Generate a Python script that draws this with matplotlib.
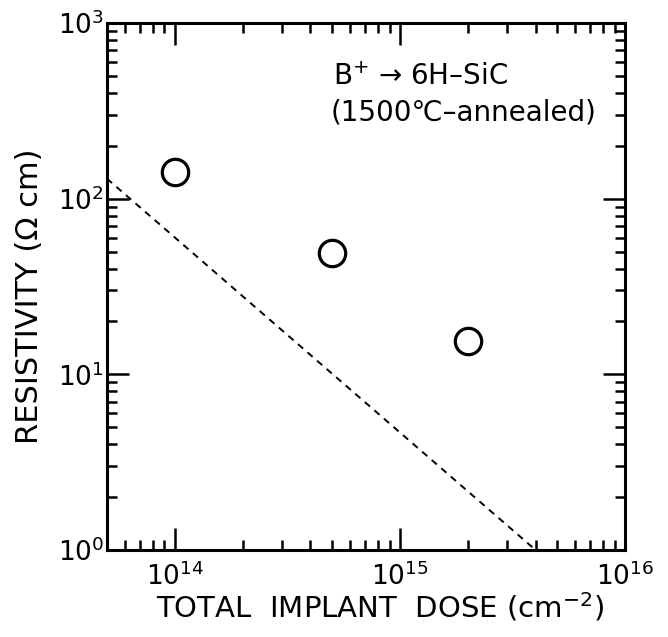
import matplotlib
matplotlib.use("Agg")
import matplotlib.pyplot as plt
from matplotlib.ticker import LogLocator, NullFormatter

plt.rcParams['font.family'] = ['DejaVu Sans']
plt.rcParams['mathtext.fontset'] = 'dejavusans'

# measured points
dose = [1e14, 5e14, 2e15]
resistivity = [142, 49, 15.5]

# dashed reference line
line_dose = [5e13, 4e15]
line_res = [130, 1]

fig = plt.figure(figsize=(6.68, 6.37), dpi=100)
ax = fig.add_axes([0.160, 0.1366, 0.776, 0.8274])

ax.plot(line_dose, line_res, color='black', linestyle=(0, (3.5, 3)), linewidth=1.4)
ax.plot(dose, resistivity, linestyle='none', marker='o', markersize=19,
        markerfacecolor='white', markeredgecolor='black', markeredgewidth=2.3)

ax.set_xscale('log')
ax.set_yscale('log')
ax.set_xlim(5e13, 1e16)
ax.set_ylim(1, 1e3)

ax.xaxis.set_major_locator(LogLocator(base=10, numticks=10))
ax.xaxis.set_minor_locator(LogLocator(base=10, subs=range(2, 10), numticks=20))
ax.yaxis.set_minor_locator(LogLocator(base=10, subs=range(2, 10), numticks=20))
ax.xaxis.set_minor_formatter(NullFormatter())
ax.yaxis.set_minor_formatter(NullFormatter())

for s in ax.spines.values():
    s.set_linewidth(2.2)

ax.tick_params(which='both', direction='in', top=True, right=True, width=1.8)
ax.tick_params(which='major', length=16, labelsize=19)
ax.tick_params(which='minor', length=7)
ax.tick_params(axis='x', which='major', pad=9)
ax.tick_params(axis='y', which='major', pad=2)

ax.set_xlabel('TOTAL  IMPLANT  DOSE (cm$^{-2}$)', fontsize=21, labelpad=0)
ax.set_ylabel('RESISTIVITY (\u03a9 cm)', fontsize=22, labelpad=10)
ax.xaxis.label.set_x(0.527)
ax.yaxis.label.set_y(0.482)

ax.text(0.436, 0.898, 'B$^{+}$ \u2192 6H\u2013SiC', transform=ax.transAxes,
        fontsize=20, va='center', ha='left')
ax.text(0.432, 0.830, '(1500\u2103\u2013annealed)', transform=ax.transAxes,
        fontsize=20, va='center', ha='left')

fig.savefig('out.png', dpi=100)
